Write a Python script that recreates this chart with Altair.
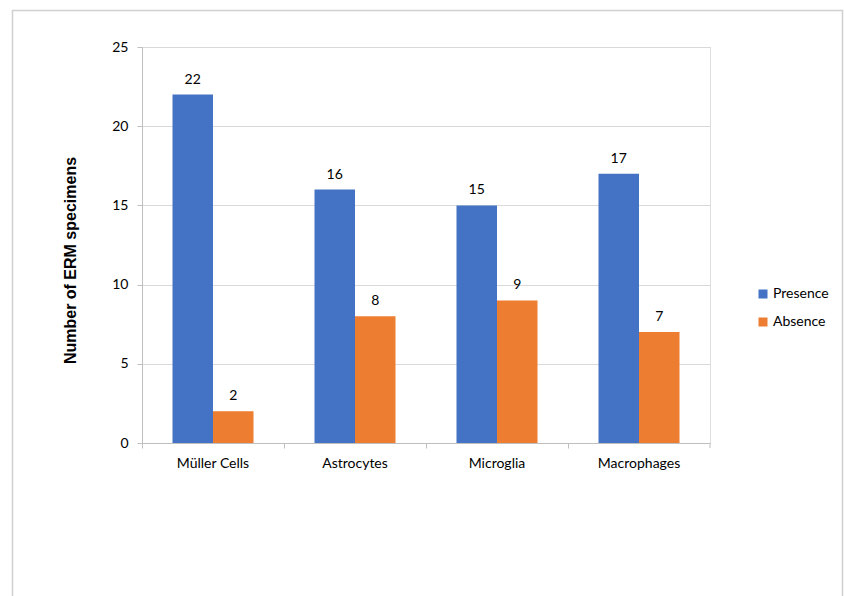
import altair as alt
import pandas as pd

cells = ["Müller Cells", "Astrocytes", "Microglia", "Macrophages"]
presence = [22, 16, 15, 17]
absence = [2, 8, 9, 7]
groups = ["Presence", "Absence"]
colors = ["#4472C4", "#ED7D31"]

rows = []
for c, p, a in zip(cells, presence, absence):
    rows.append({"cell": c, "status": "Presence", "count": p})
    rows.append({"cell": c, "status": "Absence", "count": a})
df = pd.DataFrame(rows)

W, H = 568, 396
FONT = "Lato"

x_enc = alt.X(
    "cell:N",
    sort=cells,
    scale=alt.Scale(paddingInner=0, paddingOuter=0),
    axis=alt.Axis(
        title=None,
        bandPosition=0,
        labelAngle=0,
        labelFont=FONT,
        labelFontSize=14,
        labelColor="#000000",
        labelPadding=8,
        tickSize=5,
        tickColor="#BFBFBF",
        domainColor="#BFBFBF",
        grid=False,
    ),
)
xoff = alt.XOffset("status:N", sort=groups, scale=alt.Scale(paddingOuter=0.753, paddingInner=0))

base = alt.Chart(df)

bars = base.mark_bar().encode(
    x=x_enc,
    xOffset=xoff,
    y=alt.Y(
        "count:Q",
        scale=alt.Scale(domain=[0, 25], nice=False),
        axis=alt.Axis(
            values=[0, 5, 10, 15, 20, 25],
            title="Number of ERM specimens",
            titleFont="Liberation Sans",
            titleFontSize=16,
            titleFontWeight="bold",
            titleColor="#000000",
            titleX=-72,
            titleY=213,
            titleAngle=-90,
            titleBaseline="middle",
            titleAlign="center",
            labelFont=FONT,
            labelFontSize=14,
            labelColor="#000000",
            labelPadding=9,
            tickSize=5,
            tickColor="#BFBFBF",
            domainColor="#BFBFBF",
            gridColor="#D9D9D9",
        ),
    ),
    color=alt.Color(
        "status:N",
        sort=groups,
        scale=alt.Scale(domain=groups, range=colors),
        legend=alt.Legend(
            title=None,
            orient="none",
            legendX=614,
            legendY=240,
            symbolType="square",
            symbolSize=81,
            symbolStrokeWidth=0,
            labelFont=FONT,
            labelFontSize=14,
            labelColor="#000000",
            labelOffset=3,
            rowPadding=14,
        ),
    ),
)

labels = base.mark_text(baseline="bottom", dy=-8, font=FONT, fontSize=14, color="#000000").encode(
    x=alt.X("cell:N", sort=cells),
    xOffset=xoff,
    y="count:Q",
    text="count:Q",
)

end_tick = alt.Chart(pd.DataFrame({"v": [0]})).mark_rule(color="#BFBFBF").encode(
    x=alt.value(W), y=alt.value(H), y2=alt.value(H + 5)
)

frame = alt.Chart(pd.DataFrame({"v": [0]})).mark_rect(
    fill=None, stroke="#D0D0D0", strokeWidth=1.5
).encode(
    x=alt.value(-129.5), x2=alt.value(700.5), y=alt.value(-36.5), y2=alt.value(600)
)

chart = (
    alt.layer(frame, bars, labels, end_tick)
    .properties(
        width=W,
        height=H,
        autosize=alt.AutoSizeParams(type="none"),
        padding={"left": 142, "top": 47, "right": 135, "bottom": 153},
    )
    .configure_view(stroke=None)
    .configure(background="#FFFFFF")
)

chart.save("out.html", embed_options={"renderer": "svg", "actions": False})
